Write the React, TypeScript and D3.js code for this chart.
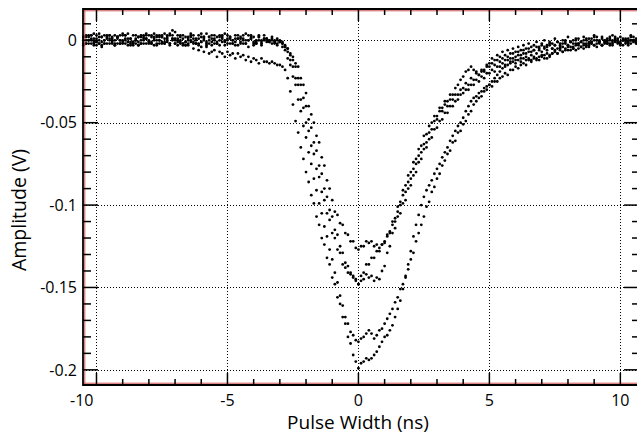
import React from 'react';
import * as d3 from 'd3';

// Sampling time base (ns) and oscilloscope traces in mV
const T_START = -10.5;
const T_STEP = 0.1;

const traceA = [
  2, -2, 3, 0, -3, 1, 4, -1, -2, 3,
  0, 2, -3, 1, 3, -1, -2, 4, 1, -2,
  3, -1, -2, 2, 4, 0, -1, -3, 2, 3,
  -1, -2, 3, 4, 1, -2, 0, 3, 1, -3,
  2, 3, -1, -2, 1, 4, 2, -1, -2, 1,
  3, -1, -3, 2, 0, 3, 1, -2, -1, 3,
  1, -2, 0, 3, 1, -3, -1, 2, -2, 0,
  1, -1, 0, -2, 0, -1, -2, -4, -5, -8,
  -10, -14, -16, -23, -27, -32, -40, -45, -50, -58,
  -62, -71, -76, -85, -90, -97, -104, -106, -111, -112,
  -117, -118, -122, -122, -126, -127, -125, -125, -122, -123,
  -122, -125, -124, -126, -124, -123, -119, -117, -112, -110,
  -104, -100, -94, -92, -86, -84, -78, -75, -70, -68,
  -63, -62, -56, -54, -49, -48, -43, -43, -39, -40,
  -36, -36, -33, -33, -30, -29, -26, -27, -23, -24,
  -20, -21, -18, -19, -16, -16, -14, -15, -12, -13,
  -11, -12, -10, -11, -8, -10, -7, -9, -6, -8,
  -5, -7, -6, -4, -6, -3, -5, -4, -2, -5,
  -3, -1, -4, -2, 0, -3, -1, -2, 1, -2,
  -1, 0, -2, 1, -1, 2, 0, -2, 1, -1,
  0, 2, -1, 1, 0, -2, 1, 0, -1, 2,
  0, -1, 1,
];

const traceB1 = [
  -2, 2, 0, 3, -2, -1, 2, -3, 0, 2,
  3, -2, 0, 2, -2, 3, 0, -3, 1, -1,
  -2, 2, 3, 0, -2, -1, 3, 1, -2, 0,
  2, 4, -1, -2, 1, 0, -3, 2, 3, -1,
  -2, 0, 3, 1, -2, -1, 2, -3, 0, 3,
  1, -2, 0, 3, -1, -2, 2, 0, -3, 1,
  -1, 3, -2, 0, 2, -2, 0, 3, -1, 1,
  0, -1, 1, 0, -2, 0, -1, -3, -5, -9,
  -12, -16, -23, -27, -35, -40, -48, -53, -62, -67,
  -76, -81, -90, -95, -103, -107, -115, -118, -125, -129,
  -135, -137, -142, -143, -146, -148, -143, -141, -136, -136,
  -132, -132, -128, -128, -124, -122, -118, -116, -110, -108,
  -101, -98, -91, -88, -82, -80, -74, -72, -66, -64,
  -58, -57, -52, -50, -46, -46, -41, -41, -37, -37,
  -33, -33, -29, -27, -24, -22, -19, -18, -16, -18,
  -19, -21, -19, -18, -15, -14, -11, -12, -9, -10,
  -7, -9, -6, -8, -5, -7, -4, -6, -3, -5,
  -2, -4, -3, -1, -4, -2, 0, -3, -1, -2,
  1, -1, -3, 0, -2, 2, -1, 0, -2, 1,
  -1, 2, 0, -2, 1, 3, 0, -1, 2, 0,
  -2, 1, 3, 0, -1, 2, 0, -2, 1, 3,
  0, -1, 2,
];

const traceB2 = [
  0, 3, -2, 1, 4, -1, -2, 2, 3, -2,
  1, -1, 3, -2, 0, 4, 1, -1, -2, 3,
  1, -3, 0, 3, 1, -2, 2, 4, 0, -2,
  3, -1, 1, -2, 3, 5, 1, -1, -2, 2,
  0, 4, 1, -2, 3, -1, 1, 4, 2, -1,
  -2, 2, 3, -1, 4, 1, -2, 0, 3, 1,
  -2, 1, 4, 0, 3, -1, -2, 2, 0, 3,
  1, 0, 2, -1, 1, -1, -2, -4, -7, -12,
  -16, -23, -27, -36, -41, -50, -55, -64, -69, -78,
  -83, -92, -97, -105, -109, -117, -120, -127, -129, -136,
  -138, -141, -141, -144, -145, -148, -146, -145, -142, -144,
  -143, -146, -144, -145, -140, -137, -129, -125, -117, -114,
  -107, -105, -99, -97, -90, -88, -82, -80, -74, -72,
  -66, -65, -60, -59, -54, -53, -49, -48, -44, -44,
  -40, -40, -37, -36, -33, -32, -30, -30, -27, -27,
  -24, -25, -22, -23, -20, -20, -18, -19, -16, -16,
  -14, -15, -12, -13, -11, -12, -9, -11, -8, -10,
  -7, -9, -6, -8, -5, -7, -4, -6, -3, -5,
  -3, -5, -2, -4, -1, -3, -1, -4, 0, -2,
  -1, -3, 1, -1, -2, 0, 2, -1, -3, 0,
  1, -2, 0, 2, -1, -3, 0, 1, -2, 0,
  2, -1, 0,
];

const traceC = [
  -3, 0, 2, -2, -1, 3, -2, -4, 0, 2,
  -2, 1, -3, 2, 0, -2, 3, -1, -3, -1,
  0, -3, 2, -2, 1, 3, -2, 0, -3, 2,
  -2, 1, 2, -3, 0, -2, 3, 0, -2, -3,
  1, 2, -2, 0, -3, 2, 0, -2, 2, -3,
  0, -2, 2, 1, -3, 0, 2, -2, 1, -3,
  2, 0, -2, -4, 1, 2, -2, 0, -3, 1,
  -1, 0, -2, -1, -3, -1, -4, -6, -11, -15,
  -22, -27, -36, -43, -52, -59, -68, -75, -84, -91,
  -99, -105, -113, -119, -127, -133, -141, -147, -155, -161,
  -168, -172, -177, -179, -182, -183, -181, -180, -178, -176,
  -178, -181, -179, -176, -175, -172, -169, -166, -163, -159,
  -156, -151, -148, -143, -139, -133, -129, -122, -117, -112,
  -107, -101, -98, -92, -89, -84, -81, -76, -73, -69,
  -67, -62, -61, -56, -55, -51, -49, -45, -43, -39,
  -37, -35, -34, -31, -30, -27, -28, -25, -25, -23,
  -22, -20, -21, -18, -18, -16, -17, -15, -14, -15,
  -12, -13, -11, -12, -10, -9, -11, -8, -9, -8,
  -6, -8, -5, -7, -6, -4, -6, -5, -3, -5,
  -4, -2, -4, -3, -1, -3, -2, 0, -3, -1,
  -2, 0, -3, -1, 1, -2, 0, -1, -3, 0,
  -1, 1, -2,
];

const traceD = [
  2, -2, 0, 3, 1, -3, 0, 2, -2, 1,
  3, 0, -2, 2, -2, 0, 3, 1, -1, -3,
  0, 2, -2, 1, 3, -1, -2, 2, 3, 0,
  2, -2, 0, 3, 6, 1, -1, -2, -3, -1,
  -3, -1, -5, -2, -6, -4, -7, -4, -8, -7,
  -6, -10, -7, -8, -10, -7, -9, -8, -11, -8,
  -10, -9, -12, -10, -13, -11, -12, -14, -11, -13,
  -13, -14, -13, -14, -15, -15, -16, -18, -23, -31,
  -39, -49, -56, -65, -72, -80, -86, -94, -99, -107,
  -112, -120, -124, -132, -136, -144, -148, -156, -160, -168,
  -172, -180, -184, -191, -195, -199, -196, -195, -193, -194,
  -193, -191, -189, -186, -183, -180, -179, -176, -173, -168,
  -163, -158, -151, -144, -136, -128, -119, -112, -106, -100,
  -95, -91, -88, -85, -81, -78, -75, -71, -68, -65,
  -61, -58, -55, -52, -50, -47, -43, -40, -37, -35,
  -34, -32, -31, -29, -28, -27, -25, -23, -21, -19,
  -17, -16, -15, -14, -13, -14, -12, -13, -11, -12,
  -11, -12, -10, -11, -12, -10, -9, -11, -10, -8,
  -7, -8, -6, -7, -5, -6, -4, -5, -6, -3,
  -4, -5, -3, -4, -2, -3, -4, -1, -3, -2,
  -1, -3, -2, 0, -2, -1, -3, 0, -1, -2,
  0, -2, -1,
];

const traces = [traceA, traceB1, traceB2, traceC, traceD];

const xMajorTicks = [-10, -5, 0, 5, 10];
const xMajorLabels = ['-10', '-5', '0', '5', '10'];
const yMajorTicks = [0, -50, -100, -150, -200]; // mV
const yMajorLabels = ['0', '-0.05', '-0.1', '-0.15', '-0.2'];
const xMinorTicks = [-9, -8, -7, -6, -4, -3, -2, -1, 1, 2, 3, 4, 6, 7, 8, 9];
const yMinorTicks = [10, -10, -20, -30, -40, -60, -70, -80, -90, -110, -120, -130, -140, -160, -170, -180, -190];

const W = 637;
const H = 436;
const L = 83;
const R = 640;
const T = 9;
const B = 385;
const FONT = '"Open Sans", "Noto Sans", sans-serif';

export default function App() {
  const x = d3.scaleLinear().domain([-10.515, 10.75]).range([L, R]);
  const y = d3.scaleLinear().domain([-209.2, 19]).range([B, T]);

  const points: { t: number; v: number }[] = [];
  traces.forEach((tr) => {
    tr.forEach((v, i) => points.push({ t: T_START + i * T_STEP, v }));
  });

  return (
    <svg
      width={W}
      height={H}
      style={{ position: 'absolute', left: 0, top: 0, background: '#fff' }}
    >
      <rect x={0} y={0} width={W} height={H} fill="#fff" />
      {/* grid */}
      <g stroke="#000" strokeWidth={1} strokeDasharray="1 2">
        {xMajorTicks.map((t) => (
          <line key={'gx' + t} x1={Math.round(x(t)) + 0.5} x2={Math.round(x(t)) + 0.5} y1={T} y2={B} />
        ))}
        {yMajorTicks.map((v) => (
          <line key={'gy' + v} x1={L} x2={R} y1={Math.round(y(v)) + 0.5} y2={Math.round(y(v)) + 0.5} />
        ))}
      </g>
      {/* data */}
      <g fill="#000">
        {points.map((p, i) => (
          <circle key={i} cx={x(p.t)} cy={y(p.v)} r={1.4} />
        ))}
      </g>
      {/* frame */}
      <g stroke="#d05050" strokeWidth={1}>
        <line x1={L + 1.8} x2={L + 1.8} y1={T} y2={B} />
        <line x1={L} x2={R} y1={T + 1.8} y2={T + 1.8} />
        <line x1={L} x2={R} y1={B - 1.8} y2={B - 1.8} />
      </g>
      <g stroke="#000" strokeWidth={1.8}>
        <line x1={L} x2={L} y1={T - 0.9} y2={B + 0.9} />
        <line x1={L} x2={R} y1={T} y2={T} />
        <line x1={L} x2={R} y1={B} y2={B} />
        <line x1={R} x2={R} y1={T} y2={B} />
      </g>
      {/* ticks */}
      <g stroke="#000" strokeWidth={1.5}>
        {xMajorTicks.map((t) => (
          <g key={'xt' + t}>
            <line x1={x(t)} x2={x(t)} y1={B} y2={B - 12} />
            <line x1={x(t)} x2={x(t)} y1={T} y2={T + 12} />
          </g>
        ))}
        {xMinorTicks.map((t) => (
          <g key={'xm' + t}>
            <line x1={x(t)} x2={x(t)} y1={B} y2={B - 6} />
            <line x1={x(t)} x2={x(t)} y1={T} y2={T + 6} />
          </g>
        ))}
        {yMajorTicks.map((v) => (
          <g key={'yt' + v}>
            <line x1={L} x2={L + 15} y1={y(v)} y2={y(v)} />
            <line x1={R} x2={R - 16} y1={y(v)} y2={y(v)} />
          </g>
        ))}
        {yMinorTicks.map((v) => (
          <g key={'ym' + v}>
            <line x1={L} x2={L + 8} y1={y(v)} y2={y(v)} />
            <line x1={R} x2={R - 8} y1={y(v)} y2={y(v)} />
          </g>
        ))}
      </g>
      {/* tick labels */}
      <g fontFamily={FONT} fontSize={16} fill="#000">
        {xMajorTicks.map((t, i) => (
          <text
            key={'xl' + t}
            x={i === 0 ? x(t) - 3 : x(t)}
            y={406}
            textAnchor={i === 0 ? 'end' : 'middle'}
          >
            {xMajorLabels[i]}
          </text>
        ))}
        {yMajorTicks.map((v, i) => (
          <text key={'yl' + v} x={77} y={y(v)} dy="0.36em" textAnchor="end">
            {yMajorLabels[i]}
          </text>
        ))}
      </g>
      {/* axis titles */}
      <text
        x={358}
        y={429}
        textAnchor="middle"
        fontFamily={FONT}
        fontSize={19}
        fill="#000"
      >
        Pulse Width (ns)
      </text>
      <text
        transform="translate(26,210) rotate(-90)"
        textAnchor="middle"
        fontFamily={FONT}
        fontSize={19.5}
        fill="#000"
      >
        Amplitude (V)
      </text>
    </svg>
  );
}
